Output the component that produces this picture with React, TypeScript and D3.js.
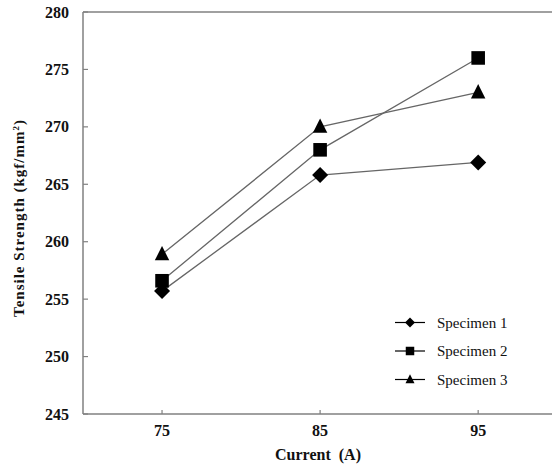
import React from "react";
import * as d3 from "d3";

const currents = [75, 85, 95];
const specimen1 = [255.7, 265.8, 266.9];
const specimen2 = [256.6, 268.0, 276.0];
const specimen3 = [258.9, 270.0, 273.0];
const seriesNames = ["Specimen 1", "Specimen 2", "Specimen 3"];
const yTicks = [245, 250, 255, 260, 265, 270, 275, 280];
const xTicks = [75, 85, 95];

const W = 552;
const H = 467;
const FONT = "'Liberation Serif', 'Times New Roman', serif";

type Shape = "diamond" | "square" | "triangle";
const shapes: Shape[] = ["diamond", "square", "triangle"];

function markerPath(shape: Shape, s: number): string {
  if (shape === "diamond") {
    return `M0,${-s}L${s},0L0,${s}L${-s},0Z`;
  }
  if (shape === "square") {
    const h = s * 0.85;
    return `M${-h},${-h}L${h},${-h}L${h},${h}L${-h},${h}Z`;
  }
  const h = s;
  return `M0,${-h * 1.05}L${h * 0.9},${h * 0.75}L${-h * 0.9},${h * 0.75}Z`;
}

export default function App() {
  const x = d3.scaleLinear().domain([70, 100]).range([83, 557.2]);
  const y = d3.scaleLinear().domain([245, 280]).range([414, 12]);
  const series = [specimen1, specimen2, specimen3];
  const line = d3
    .line<number>()
    .x((_, i) => x(currents[i]))
    .y((d) => y(d));

  const legendX = 395;
  const legendY = [322.5, 351, 379.5];

  return (
    <svg
      width={W}
      height={H}
      style={{ position: "absolute", left: 0, top: 0, background: "#fff" }}
    >
      {/* axes */}
      <line x1={83} x2={W} y1={y(280)} y2={y(280)} stroke="#808080" strokeWidth={1.5} />
      <line x1={83} x2={W} y1={y(245)} y2={y(245)} stroke="#808080" strokeWidth={1.5} />
      <line x1={83} x2={83} y1={y(280)} y2={y(245)} stroke="#808080" strokeWidth={1.5} />
      {yTicks.map((t) => (
        <g key={t}>
          <line x1={83} x2={88} y1={y(t)} y2={y(t)} stroke="#808080" strokeWidth={1.2} />
          <text
            x={69}
            y={y(t)}
            dy="0.35em"
            textAnchor="end"
            fontFamily={FONT}
            fontWeight="bold"
            fontSize={16}
            fill="#111"
          >
            {t}
          </text>
        </g>
      ))}
      {xTicks.map((t) => (
        <g key={t}>
          <line x1={x(t)} x2={x(t)} y1={y(245)} y2={y(245) - 4} stroke="#808080" strokeWidth={1.2} />
          <text
            x={x(t)}
            y={436}
            textAnchor="middle"
            fontFamily={FONT}
            fontWeight="bold"
            fontSize={16}
            fill="#111"
          >
            {t}
          </text>
        </g>
      ))}
      <text
        x={318}
        y={460}
        textAnchor="middle"
        fontFamily={FONT}
        fontWeight="bold"
        fontSize={16}
        fill="#111"
        style={{ whiteSpace: "pre" }}
      >
        {"Current  (A)"}
      </text>
      <text
        transform={`translate(24,218) rotate(-90)`}
        textAnchor="middle"
        fontFamily={FONT}
        fontWeight="bold"
        fontSize={15}
        letterSpacing={1}
        fill="#111"
      >
        Tensile Strength (kgf/mm<tspan dy="-5" fontSize={9}>2</tspan>
        <tspan dy="5">)</tspan>
      </text>

      {/* series lines */}
      {series.map((s, i) => (
        <path key={"l" + i} d={line(s) || ""} fill="none" stroke="#666" strokeWidth={1.3} />
      ))}
      {series.map((s, i) =>
        s.map((v, j) => (
          <path
            key={`m${i}-${j}`}
            d={markerPath(shapes[i], 8)}
            transform={`translate(${x(currents[j])},${y(v)})`}
            fill="#000"
          />
        ))
      )}

      {/* legend */}
      {seriesNames.map((n, i) => (
        <g key={n}>
          <line
            x1={legendX}
            x2={legendX + 30}
            y1={legendY[i]}
            y2={legendY[i]}
            stroke="#000"
            strokeWidth={1.2}
          />
          <path
            d={markerPath(shapes[i], 5)}
            transform={`translate(${legendX + 15},${legendY[i]})`}
            fill="#000"
          />
          <text
            x={legendX + 42}
            y={legendY[i]}
            dy="0.35em"
            fontFamily={FONT}
            fontSize={15}
            fill="#111"
          >
            {n}
          </text>
        </g>
      ))}
    </svg>
  );
}
